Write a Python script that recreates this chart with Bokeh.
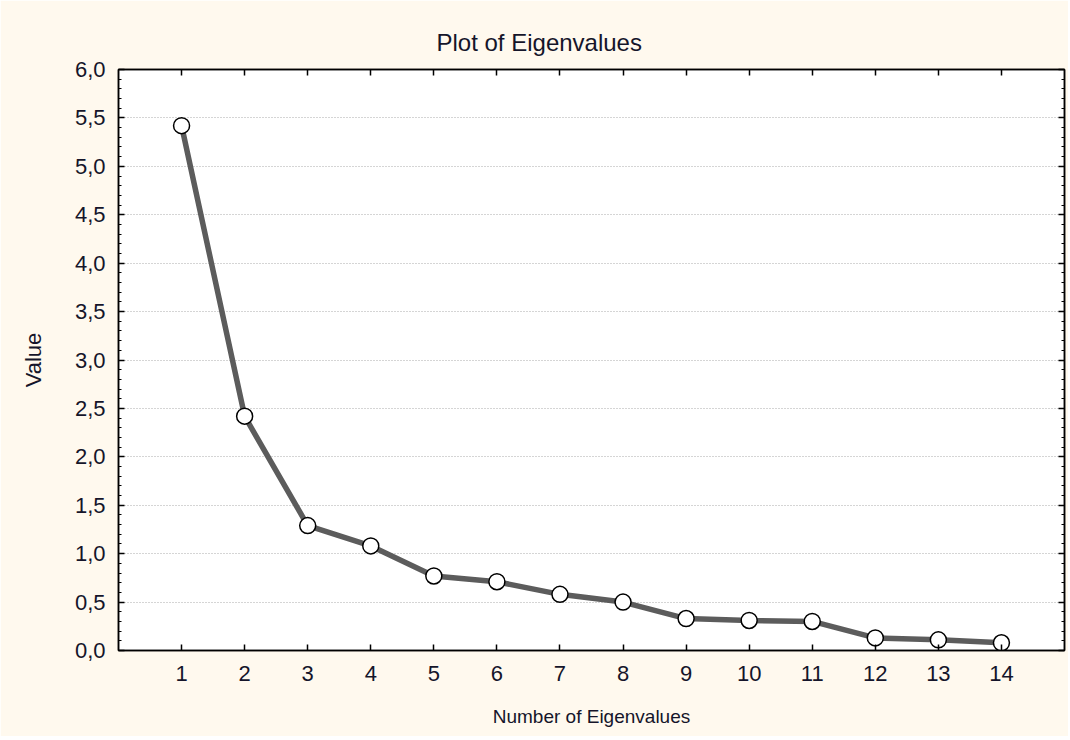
from bokeh.plotting import figure
from bokeh.models import LinearAxis, FixedTicker, Range1d
from bokeh.embed import file_html
from bokeh.resources import INLINE

eig_number = [1, 2, 3, 4, 5, 6, 7, 8, 9, 10, 11, 12, 13, 14]
eig_value = [5.42, 2.42, 1.29, 1.08, 0.77, 0.71, 0.58, 0.50, 0.33, 0.31, 0.30, 0.13, 0.11, 0.08]
y_ticks = [0.0, 0.5, 1.0, 1.5, 2.0, 2.5, 3.0, 3.5, 4.0, 4.5, 5.0, 5.5, 6.0]
y_tick_labels = ["0,0", "0,5", "1,0", "1,5", "2,0", "2,5", "3,0", "3,5", "4,0", "4,5", "5,0", "5,5", "6,0"]
y_minor = [round(i * 0.1, 1) for i in range(61)]

FONT = "Liberation Sans"
BG = "#FFF9EE"
TXT = "#15152A"

p = figure(width=1068, height=736, x_range=Range1d(0, 15), y_range=Range1d(0, 6),
           output_backend="svg", toolbar_location=None,
           min_border_left=118, min_border_right=4, min_border_top=69, min_border_bottom=86,
           x_axis_location=None, y_axis_location=None)
p.border_fill_color = BG
p.background_fill_color = "white"
p.outline_line_color = "black"
p.outline_line_width = 1.5

p.title.text = "Plot of Eigenvalues"
p.title.align = "left"
p.title.text_font = FONT
p.title.text_font_size = "24px"
p.title.text_font_style = "normal"
p.title.text_color = TXT
p.title.offset = 318
p.title.standoff = 27

xt = FixedTicker(ticks=eig_number)
yt = FixedTicker(ticks=y_ticks, minor_ticks=y_minor)

def style(ax):
    ax.axis_line_color = "black"
    ax.axis_line_width = 1.5
    ax.major_tick_line_color = "black"
    ax.major_tick_line_width = 1.5
    ax.minor_tick_line_color = "black"
    ax.major_tick_in = 6
    ax.major_tick_out = 0
    ax.minor_tick_in = 3
    ax.minor_tick_out = 0
    ax.major_label_text_font = FONT
    ax.major_label_text_font_size = "22px"
    ax.major_label_text_color = TXT
    ax.axis_label_text_font = FONT
    ax.axis_label_text_font_style = "normal"
    ax.axis_label_text_color = TXT

xb = LinearAxis(ticker=xt, axis_label="Number of Eigenvalues")
style(xb)
xb.major_label_standoff = 15
xb.axis_label_text_font_size = "19px"
xb.axis_label_standoff = 22
xb.minor_tick_in = 0
p.add_layout(xb, "below")

xtop = LinearAxis(ticker=xt)
style(xtop)
xtop.major_label_text_font_size = "0px"
xtop.minor_tick_in = 0
p.add_layout(xtop, "above")

yl = LinearAxis(ticker=yt, axis_label="Value")
style(yl)
yl.major_label_overrides = {t: s for t, s in zip(y_ticks, y_tick_labels)}
yl.major_label_standoff = 13
yl.axis_label_text_font_size = "22px"
yl.axis_label_standoff = 26
p.add_layout(yl, "left")

yr = LinearAxis(ticker=yt)
style(yr)
yr.major_label_text_font_size = "0px"
p.add_layout(yr, "right")

p.xgrid.visible = False
p.ygrid.ticker = yt
p.ygrid.grid_line_color = "#AAAAAA"
p.ygrid.grid_line_dash = "1 2"
p.ygrid.grid_line_width = 1

p.line(eig_number, eig_value, line_color="#5C5C5C", line_width=5.5)
p.scatter(eig_number, eig_value, size=16, fill_color="white", line_color="black", line_width=1.5)

open("out.html", "w").write(file_html(p, INLINE))
